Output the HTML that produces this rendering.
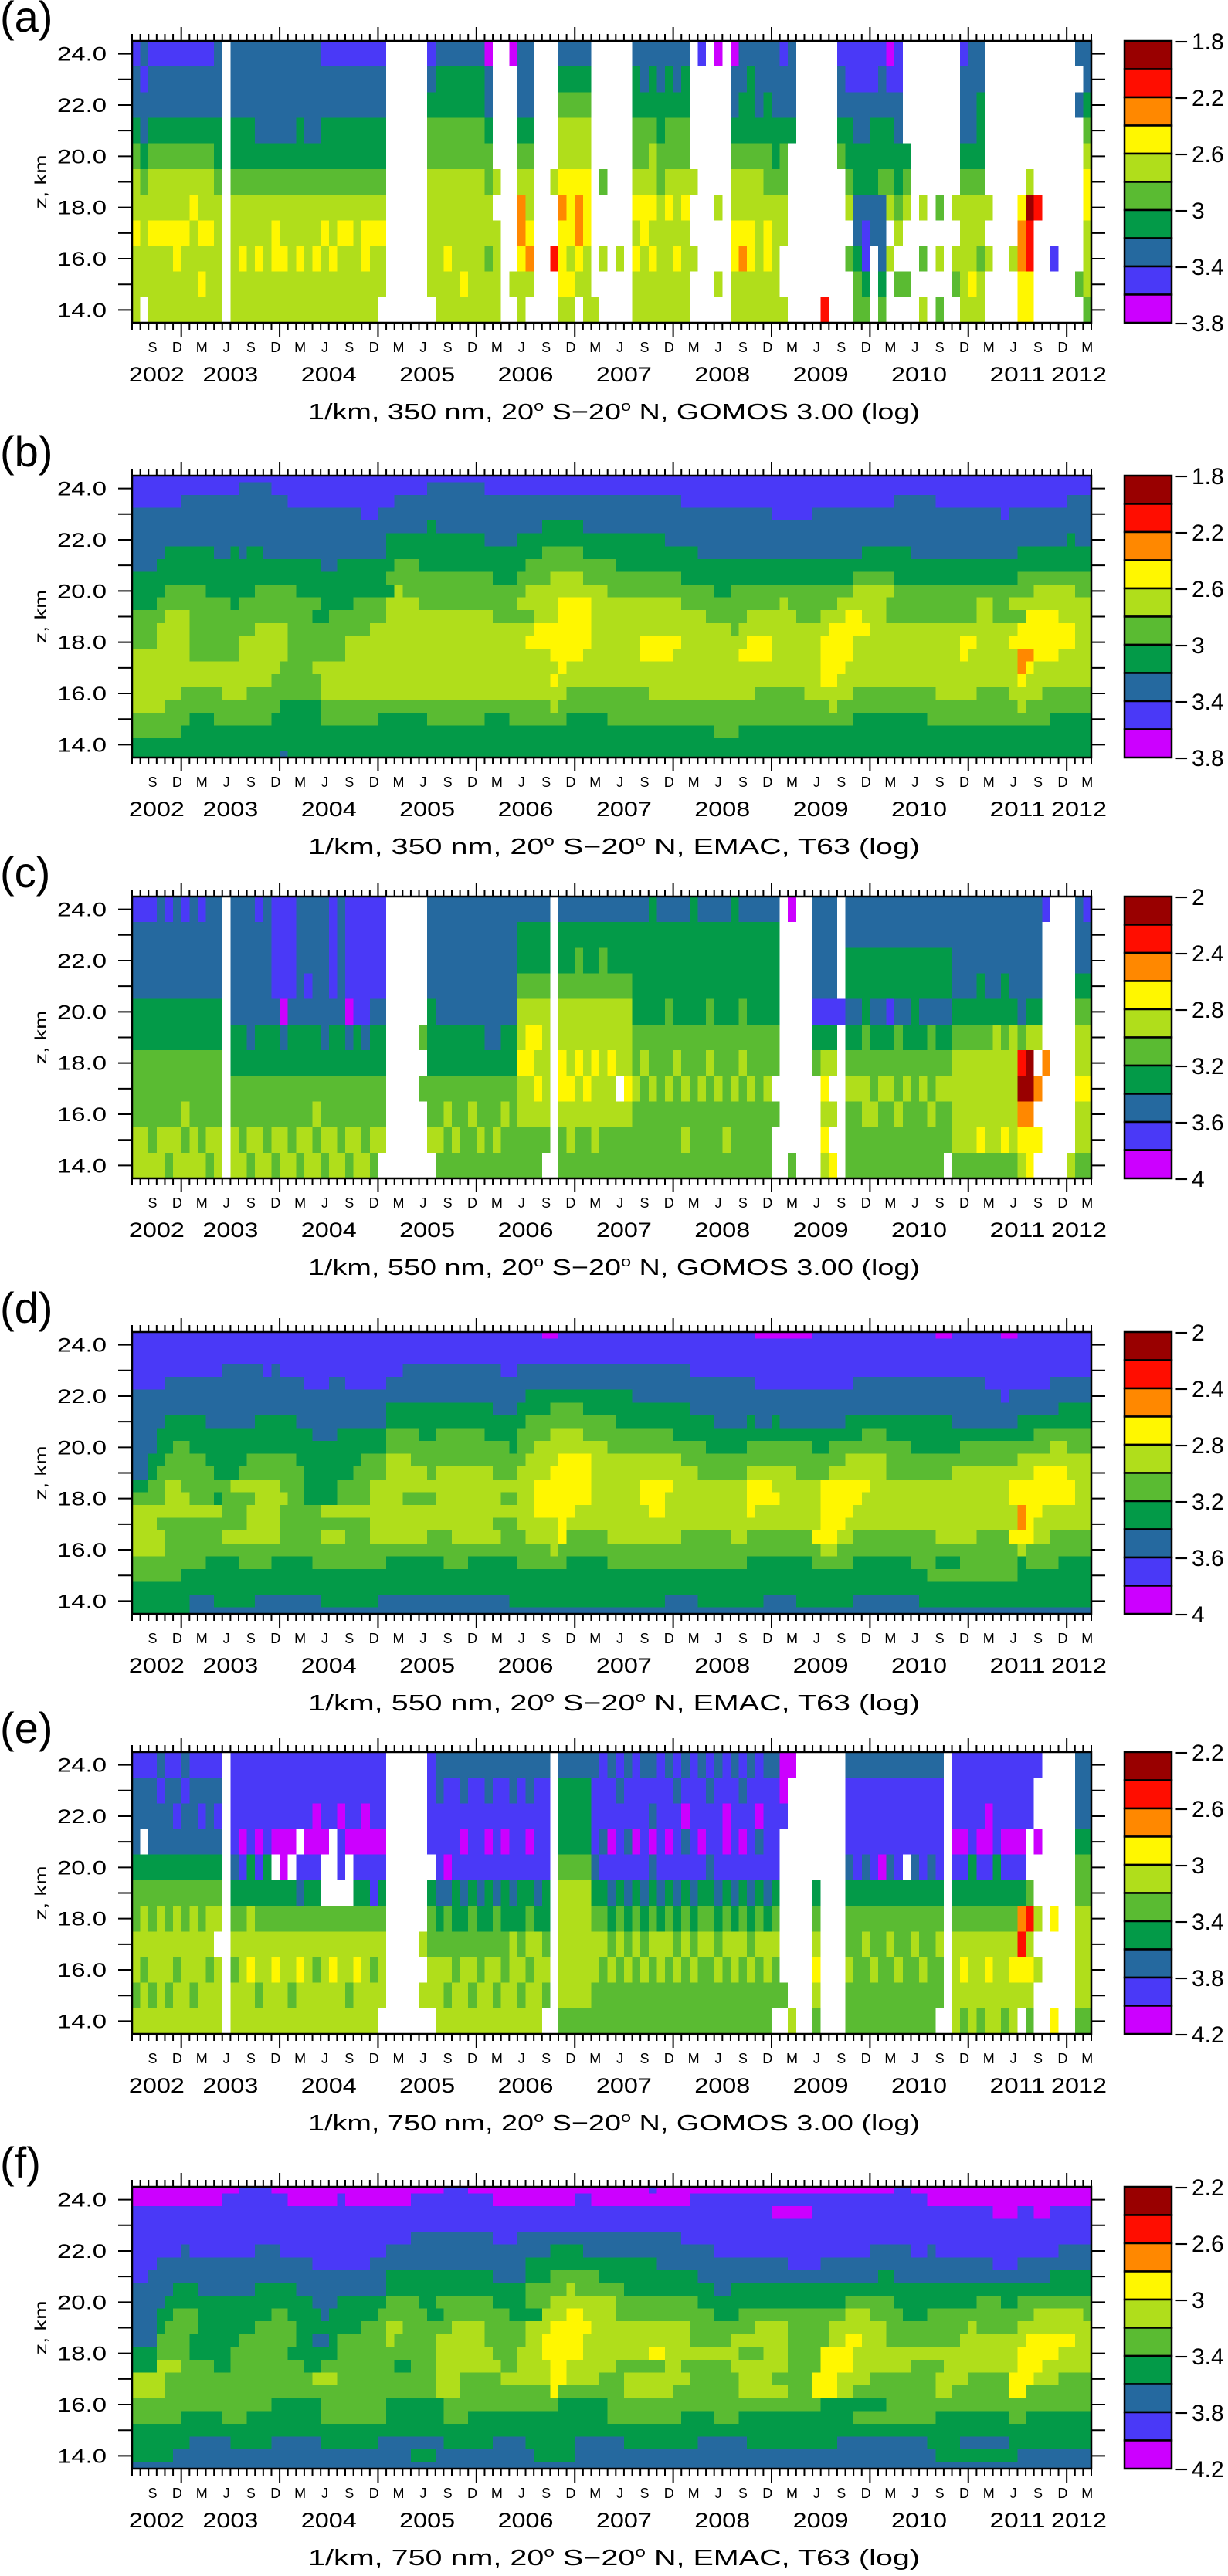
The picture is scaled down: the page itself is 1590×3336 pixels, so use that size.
<!DOCTYPE html>
<html>
<head>
<meta charset="utf-8">
<style>
html,body{margin:0;padding:0;background:#fff;}
svg{display:block;}
text{font-family:"Liberation Sans",sans-serif;fill:#000;}
</style>
</head>
<body>
<svg id="fig" xmlns="http://www.w3.org/2000/svg" width="1590" height="3336" viewBox="0 0 1590 3336">
<rect x="0" y="0" width="1590" height="3336" fill="#fff"></rect>
</svg>
<script>
// ---------- axis categories / tick labels ----------
const N_MONTHS = 117;               // Jul 2002 .. Mar 2012
const monthLetterOffsets = [2, 5, 8, 11];   // months after July: Sep, Dec, Mar, Jun
const monthLetters = ['S', 'D', 'M', 'J'];
const yearLabels = ['2002','2003','2004','2005','2006','2007','2008','2009','2010','2011','2012'];
const zMinorTicks = [14,15,16,17,18,19,20,21,22,23,24];
const zLabelValues = [14,16,18,20,22,24];
const zLabels = ['14.0','16.0','18.0','20.0','22.0','24.0'];
const panelLetters = ['(a)','(b)','(c)','(d)','(e)','(f)'];
const wavelengths = ['350','350','550','550','750','750'];
const sources = ['GOMOS 3.00','EMAC, T63','GOMOS 3.00','EMAC, T63','GOMOS 3.00','EMAC, T63'];
const cbarLabelsAB = ['1.8','2.2','2.6','3','3.4','3.8'];
const cbarLabelsCD = ['2','2.4','2.8','3.2','3.6','4'];
const cbarLabelsEF = ['2.2','2.6','3','3.4','3.8','4.2'];
const classColors = ['#990000','#ff0d00','#ff8800','#fff700','#b0de1b','#5abb32','#039a48','#25699f','#4a39f7','#cc00ff'];

// ---------- GOMOS data: one string per month, levels 24..14 km, class digit or '.' = no data ----------
const gomosA = [
"87765443444",
"7877654444.","87765443444","87765443444","87765443444","87765443344","87765443444",
"87765434444","87765443434","87765443444","77766544444","...........","77766544444","77766544344","77766544444","77776544344","77776544444","77776543344","77776544344",
"77776544444","77766544344","77776544444","77776544344","87766543444","87766544344","87766543444","87766543444","87766544444","87766543344","87766543444","8776654344.",
"...........","...........","...........","...........","...........","8765544444.","76655444444","76655444344","76655444444","76655444434","76655444444","76655444444",
"97765544544",".....4.4444","...........","9........4.","77765422344","7776544324.","...........","...........",".....4..1..","76544323334","76544333434","7654432234.",
"76544333444","..........4",".....5..4..","...........","........4..","...........","76655434344","77655433444","76654434344","77665544444","76655434444","77655444344",
"76655434444",".....4..4..","8..........","...........","9.....4..4.","...........","97765443344","77665443244","76665443344","77765444444","77665543344","77766544444",
"87765544..4","7776.......","...........","...........","...........","..........1","...........","87765......","8876654.5..","88776677655","88776678865","88766677...",
"87766577765","9876654.4..","88776654.5.","....654..5.","...........","......4.5.4","...........","......5.4.5","...........","......4.45.","87776544444","77776544434",
"77666544544","......4.4..","...........","...........","........4..","......32233",".....401133","......1....","...........","........8..","...........","...........",
"7.7......5.","77654334445"
];
const gomosC = [
"87776655544",
"87776655544","87776655554","77776655544","87776655545","77776655544","87776655454",
"77776655544","87776655554","77776655545","77776655544","...........","77777665544","77777665554","77777765545","87777665544","77777665554","88887665545","88889765544",
"88887665554","77777665545","77787665544","77777665454","77777765545","88887665544","77777665554","88889765545","88888665544","88888765554","88887665545","8888766554.",
"...........","...........","...........","...........",".....5.5...","7777666554.","77777665545","77777665455","77777665545","77777665555","77777665455","77777665545",
"77777765555","77777765545","77777665455","77777665555","76654434455","76654334455","76654343455","7665444445.","...........","76654433455","76654443445","76554434455",
"76654443455","76654434445","76554444455","76654434455","7665444.455","76654443455","76666554555","76666545555","66666554555","76666555555","76665554555","76666545555",
"76666554545","66666555555","76666554555","76665545555","76666554555","76666555545","66666554555","76665545555","76666554555","76666555555","76666554555","7666655.5..",
"...........","9.........5","...........","...........","7777865....","77778643434","7777864.4.3","....8......","77667654555","77667654555","77666554455","77667655455",
"77667654555","77668654555","77667555455","77667654555","77666655555","77667654555","77667555455","77667654555","7766765455.","77776544445","77776544445","77776544445",
"77766544435","77776544445","77776444445","77766544435","77776444445","77777510234","77776400233","777764.2.3.","8.....2....","...........","...........","..........4",
"77765443445","87765443445"
];
const gomosE = [
"87776554454",
"877.6544544","87776554454","78776544444","87776554454","87876544544","78776554444",
"87776544454","87876554444","87776544544","8787654.444","...........","88887654544","88898654444","88886644344","88898654454","88886654444","8889.654344","88899654444",
"8889.654454","888.8754344","88898654444","88998654544","8889..54444","888...54344","88988.54444","8889..54454","88898654344","88998654444","88898854544","8889865444.",
"...........","...........","...........","...........",".......4.4.","8888.65544.","77888765444","78889755454","78888665544","77898765444","78888655454","78888765544",
"77898665444","78888755454","78898665544","77888764444","78888665454","77898654544","78888764444","7888866545.","...........","76665444445","76665444445","76665444445",
"76665444445","78887654455","88878654555","78898765455","87888654555","78878765455","88898654555","78888765455","78797654555","88888764455","78898654555","87888765455",
"78978654555","88888765455","78898654555","87887654555","78888765455","88998654555","78888764455","87898654555","78888765455","88978654555","78888764455","7888865455.",
"998......5.","9.........4","...........","...........",".....654345","...........","...........","...........","78887655455","78888655555","78887654555","78888655455",
"78889655555","78887654555","78888655455","7888.655555","78887654555","78888655455","78887655555","7888865455.","...........","88898654444","88898654345","88886654444",
"88898654445","88998654344","88886654444","88898654445","88898654344","8889862134.","888..514345","8..9..4.4..","...........","......3...3","...........","...........",
"77765544445","77765544445"
];

// ---------- EMAC data: one run-length row per 0.5 km level, 24.5 .. 13.5 km ("class*months") ----------
const emacB = [
"8*118",
"8*13,7*4,8*19,7*7,8*75",
"8*6,7*13,8*13,7*35,8*26,7*5,8*16,7*4",
"7*28,8*2,7*48,8*5,7*23,8*1,7*11",
"7*36,6*1,7*13,6*5,7*63",
"7*31,6*12,7*4,6*18,7*49,6*1,7*3",
"7*4,6*6,7*2,6*1,7*1,6*2,7*15,6*19,5*5,6*14,7*20,6*6,7*13,6*10",
"7*3,6*20,7*2,6*7,5*3,6*13,5*11,6*59",
"6*31,5*13,6*3,5*4,4*4,5*12,6*21,5*5,6*15,5*10",
"6*4,5*5,6*6,5*5,6*12,4*1,5*15,4*10,5*13,6*2,5*15,4*5,5*17,4*5,5*3",
"6*3,5*9,6*1,5*10,6*4,5*4,4*4,5*12,4*5,3*4,4*11,5*12,4*1,5*6,4*6,5*11,4*2,5*2,4*11",
"5*4,4*3,5*15,6*2,5*7,4*13,5*5,4*3,3*4,4*14,5*5,4*6,5*3,4*3,3*2,4*3,5*11,4*2,5*4,3*4,4*5",
"5*3,4*4,5*8,4*4,5*10,4*20,3*7,4*17,5*1,4*11,3*5,4*18,3*7,4*3",
"5*3,4*4,5*6,4*6,5*7,4*22,3*8,4*6,3*5,4*8,3*3,4*6,3*4,4*13,3*2,4*4,3*8,4*3",
"4*7,5*6,4*6,5*7,4*25,3*4,4*7,3*4,4*8,3*4,4*6,3*4,4*13,3*1,4*6,2*2,3*3,4*5",
"4*18,5*4,4*30,3*1,4*31,3*3,4*21,2*1,3*1,4*8",
"4*17,5*6,4*28,3*1,4*32,3*2,4*22,3*1,4*9",
"4*6,5*5,4*3,5*9,4*30,5*10,4*13,5*6,4*6,5*10,4*5,5*4,4*4,5*7",
"4*4,5*14,6*5,5*28,4*1,5*33,4*1,5*22,4*1,5*9",
"5*7,6*3,5*7,6*6,5*7,6*6,5*7,6*3,5*7,6*5,5*30,6*9,5*15,6*6",
"5*6,6*65,5*3,6*44",
"6*117",
"6*18,7*1,6*99"
];
const emacD = [
"8*50,9*2,8*24,9*7,8*15,9*2,8*6,9*2,8*10",
"8*117",
"8*117",
"8*11,7*5,8*1,7*1,8*15,7*12,8*2,7*21,8*50",
"8*4,7*17,8*3,7*2,8*5,7*45,8*12,7*16,8*8,7*6",
"7*48,6*13,7*45,8*1,7*11",
"7*31,6*13,7*3,6*4,5*4,6*13,7*45,6*5",
"7*4,6*5,7*6,6*5,7*11,6*17,5*11,6*12,7*4,6*1,7*2,6*1,7*8,6*13,7*8,6*10",
"7*3,6*19,7*3,6*6,5*4,6*2,5*6,6*4,5*4,4*4,5*11,6*23,5*3,6*18,5*8",
"7*3,6*2,5*2,6*24,5*15,6*1,5*2,4*9,5*12,6*5,5*8,6*2,5*10,6*6,5*11,4*2,5*4",
"7*2,6*2,5*5,6*5,5*6,6*8,5*3,4*3,5*14,4*4,3*4,4*11,5*20,4*5,5*16,4*10",
"7*2,6*1,5*7,6*3,5*8,6*6,5*4,4*5,5*1,4*7,5*3,4*4,3*5,4*13,5*6,4*6,5*4,4*7,5*8,4*10,3*4,4*4",
"6*2,5*2,4*2,5*6,4*6,5*3,6*4,5*4,4*20,3*7,4*6,3*4,4*9,3*3,4*6,3*6,4*17,3*8,4*3",
"5*4,4*3,5*3,6*1,5*4,4*4,5*2,6*4,5*4,4*4,5*4,4*8,5*2,4*2,3*7,4*6,3*3,4*10,3*4,4*5,3*5,4*18,3*8,4*3",
"4*11,5*3,4*4,5*5,4*26,3*5,4*9,3*2,4*10,3*1,4*8,3*4,4*20,2*1,3*2,4*7",
"4*3,5*11,4*4,5*11,4*15,5*3,4*5,3*1,4*31,3*3,4*21,2*1,3*1,4*8",
"4*4,5*7,4*7,5*5,4*3,5*3,4*7,5*3,4*6,5*3,4*4,3*1,5*5,4*9,5*6,4*2,5*8,3*3,4*2,5*10,4*5,5*4,3*3,4*2,5*6",
"4*4,5*47,4*1,5*32,4*2,5*22,4*1,5*9",
"5*9,6*4,5*4,6*5,5*9,6*7,5*3,6*6,5*6,6*5,5*17,6*8,5*5,6*7,5*3,6*3,5*7,6*1,5*4,6*5",
"5*6,6*91,5*11,6*10",
"6*117",
"6*7,7*3,6*5,7*8,6*7,7*16,6*19,7*4,6*8,7*4,6*7,7*8,6*22",
"6*7,7*111"
];
const emacF = [
"9*13,8*4,9*21,8*3,9*22,8*1,9*29,8*2,9*23",
"9*11,8*8,9*6,8*1,9*8,8*10,9*10,8*2,9*12,8*29,9*21",
"8*78,9*5,8*22,9*3,8*2,9*2,8*6",
"8*117",
"8*34,7*10,8*3,7*20,8*51",
"8*6,7*1,8*8,7*3,8*13,7*20,6*4,7*16,8*19,7*5,8*2,7*1,8*15,7*5",
"8*3,7*19,8*7,7*19,6*16,7*16,8*4,7*21,8*3,7*10",
"8*2,7*29,6*13,7*4,6*3,5*6,6*12,7*22,6*2,7*19,6*6",
"7*5,6*3,7*7,6*5,7*11,6*17,5*5,4*1,5*6,6*11,7*2,6*45",
"7*4,6*18,7*3,6*6,5*4,6*2,5*7,6*4,5*3,4*8,5*10,6*18,5*6,6*10,5*3,6*2,5*10",
"7*3,6*2,5*3,6*9,5*2,6*4,7*1,6*6,5*6,6*2,5*8,6*4,4*3,3*2,4*4,5*12,6*3,5*13,4*3,5*4,6*3,5*13,4*6,5*2",
"7*3,6*1,5*4,6*7,5*5,6*8,5*3,4*2,5*6,4*4,5*5,4*3,3*5,4*12,5*8,4*4,5*5,4*7,5*10,4*1,5*5,4*10",
"7*3,5*4,6*6,5*7,6*2,7*2,6*1,5*6,4*1,5*5,4*6,5*5,4*2,3*5,4*13,5*5,4*7,5*5,4*2,3*2,4*3,5*9,4*8,3*6,4*3",
"6*3,5*4,6*5,5*7,6*6,5*12,4*7,5*3,4*3,3*5,4*8,3*2,4*9,5*3,4*3,5*4,3*4,4*20,3*5,4*5",
"6*3,4*3,5*4,6*2,5*9,6*2,5*9,6*2,5*3,4*8,5*2,4*4,3*2,4*6,5*6,4*2,5*6,4*7,5*4,3*4,4*7,5*4,4*9,3*3,4*7",
"4*4,5*18,4*3,5*12,4*3,5*5,4*6,3*2,4*4,5*3,4*8,5*6,4*4,5*5,3*3,4*4,5*8,4*4,5*5,3*3,4*3,5*5",
"4*4,5*33,4*3,5*11,3*1,5*8,4*6,5*8,4*6,5*3,3*3,4*2,5*10,4*2,5*7,3*2,5*9",
"5*17,6*6,5*8,6*7,5*14,6*6,5*26,6*8,5*26",
"5*6,6*5,5*3,6*9,5*8,6*7,5*3,6*17,5*9,6*4,5*3,6*14,5*10,6*9,5*2,6*9",
"6*117",
"6*7,7*5,6*5,7*6,6*7,7*8,6*6,7*4,6*6,7*6,6*9,7*6,6*11,7*11,6*4,7*6,6*11",
"6*5,7*29,6*3,7*12,6*5,7*44,6*10,7*10",
"7*117"
];

// ---------- layout ----------
const NS = 'http://www.w3.org/2000/svg';
const svg = document.getElementById('fig');
const X0 = 171, X1 = 1413, H = 365;
const panelTops = [53, 616, 1161, 1725, 2269, 2832];
const CBX0 = 1456, CBX1 = 1517;

function xOf(m) { return X0 + m * (X1 - X0) / N_MONTHS; }
function yOf(z, T) { return T + (24.5 - z) * H / 11; }

function mk(tag, attrs, parent) {
  const el = document.createElementNS(NS, tag);
  for (const k in attrs) el.setAttribute(k, attrs[k]);
  (parent || svg).appendChild(el);
  return el;
}
function expandRLE(s) {
  const out = [];
  s.split(',').forEach(function (part) {
    const p = part.split('*');
    for (let i = 0; i < +p[1]; i++) out.push(p[0]);
  });
  return out.slice(0, N_MONTHS);
}

const panelData = [
  {type: 'gomos', data: gomosA, cbar: cbarLabelsAB},
  {type: 'emac',  data: emacB,  cbar: cbarLabelsAB},
  {type: 'gomos', data: gomosC, cbar: cbarLabelsCD},
  {type: 'emac',  data: emacD,  cbar: cbarLabelsCD},
  {type: 'gomos', data: gomosE, cbar: cbarLabelsEF},
  {type: 'emac',  data: emacF,  cbar: cbarLabelsEF}
];

function drawRun(g, m0, m1, zTop, zBot, cls, T) {
  const r = mk('rect', {
    x: xOf(m0).toFixed(2), y: yOf(zTop, T).toFixed(2),
    width: (xOf(m1) - xOf(m0)).toFixed(2), height: (yOf(zBot, T) - yOf(zTop, T)).toFixed(2),
    fill: classColors[+cls], 'shape-rendering': 'crispEdges'
  }, g);
  
  
}

panelData.forEach(function (pd, p) {
  const T = panelTops[p];
  const letter = panelLetters[p].replace(/[()]/g, '');
  const g = mk('g', {});
  
  

  const hm = mk('g', {}, g);
  
  

  if (pd.type === 'gomos') {
    for (let i = 0; i < 11; i++) {
      const z = 24 - i;
      const val = function (m) { return ((pd.data[m] || '')[i]) || '.'; };
      let m = 0;
      while (m < N_MONTHS) {
        const c = val(m);
        let e = m + 1;
        while (e < N_MONTHS && val(e) === c) e++;
        if (c !== '.') drawRun(hm, m, e, z + 0.5, z - 0.5, c, T);
        m = e;
      }
    }
  } else {
    pd.data.forEach(function (row, i) {
      const z = 24.5 - 0.5 * i;
      const vals = expandRLE(row);
      const zt = Math.min(z + 0.25, 24.5), zb = Math.max(z - 0.25, 13.5);
      let m = 0;
      while (m < vals.length) {
        const c = vals[m];
        let e = m + 1;
        while (e < vals.length && vals[e] === c) e++;
        drawRun(hm, m, e, zt, zb, c, T);
        m = e;
      }
    });
  }

  // frame
  const fr = mk('rect', {x: X0, y: T, width: X1 - X0, height: H, fill: 'none', stroke: '#000', 'stroke-width': 2.5}, g);
  
  

  // y ticks left/right
  zMinorTicks.forEach(function (z) {
    const y = yOf(z, T);
    const tl = mk('line', {x1: X0 - 18, y1: y, x2: X0, y2: y, stroke: '#000', 'stroke-width': 2}, g);
    
    
    const tr = mk('line', {x1: X1, y1: y, x2: X1 + 18, y2: y, stroke: '#000', 'stroke-width': 2}, g);
    
    
  });
  zLabelValues.forEach(function (z, k) {
    const t = mk('text', {x: 138, y: yOf(z, T) + 9, 'text-anchor': 'end', 'font-size': 25, textLength: 64, lengthAdjust: 'spacingAndGlyphs'}, g);
    t.textContent = zLabels[k];
    
    
  });
  const yt = mk('text', {x: 0, y: 0, 'text-anchor': 'middle', 'font-size': 21, textLength: 70, lengthAdjust: 'spacingAndGlyphs',
    transform: 'translate(60,' + (T + H / 2) + ') rotate(-90)'}, g);
  yt.textContent = 'z, km';
  
  

  // x ticks top/bottom
  for (let m = 0; m <= N_MONTHS; m++) {
    const major = ((m - 6) % 12 === 0);
    const len = major ? 18 : 9;
    const x = xOf(m);
    const tt = mk('line', {x1: x, y1: T - len, x2: x, y2: T, stroke: '#000', 'stroke-width': 2}, g);
    
    
    const tb = mk('line', {x1: x, y1: T + H, x2: x, y2: T + H + len, stroke: '#000', 'stroke-width': 2}, g);
    
    
  }
  for (let m = 0; m < N_MONTHS; m++) {
    const k = monthLetterOffsets.indexOf(m % 12);
    if (k < 0) continue;
    const t = mk('text', {x: xOf(m + 0.5), y: T + H + 38, 'text-anchor': 'middle', 'font-size': 18}, g);
    t.textContent = monthLetters[k];
    
    
  }
  yearLabels.forEach(function (yl, i) {
    const s = i === 0 ? 0 : 6 + 12 * (i - 1);
    const e = Math.min(6 + 12 * i, N_MONTHS);
    const t = mk('text', {x: xOf((s + e) / 2), y: T + H + 76, 'text-anchor': 'middle', 'font-size': 27, textLength: 72, lengthAdjust: 'spacingAndGlyphs'}, g);
    t.textContent = yl;
    
    
  });

  // caption
  const cap = mk('text', {x: 795, y: T + H + 125, 'text-anchor': 'middle', 'font-size': 29, textLength: 792, lengthAdjust: 'spacingAndGlyphs'}, g);
  
  
  const parts = [
    ['1/km, ' + wavelengths[p] + ' nm, 20', 0, null],
    ['o', -11, 18],
    [' S\u221220', 11, null],
    ['o', -11, 18],
    [' N, ' + sources[p] + ' (log)', 11, null]
  ];
  parts.forEach(function (pt) {
    const ts = mk('tspan', {dy: pt[1]}, cap);
    if (pt[2]) ts.setAttribute('font-size', pt[2]);
    ts.textContent = pt[0];
  });

  // panel letter
  const pl = mk('text', {x: 0, y: T - 12, 'font-size': 56}, g);
  pl.textContent = panelLetters[p];
  
  

  // colorbar
  const cb = mk('g', {}, g);
  
  
  for (let k = 0; k < 10; k++) {
    const b = mk('rect', {x: CBX0, y: T + k * H / 10, width: CBX1 - CBX0, height: H / 10, fill: classColors[k], stroke: '#000', 'stroke-width': 2.5}, cb);
    
    
  }
  pd.cbar.forEach(function (lab, j) {
    const by = T + j * 2 * H / 10;
    const t = mk('text', {x: 1521, y: by + 11, 'font-size': 30}, cb);
    const t1 = mk('tspan', {x: 1521}, t);
    t1.textContent = '\u2212';
    const t2 = mk('tspan', {x: 1543}, t);
    t2.textContent = lab;
    
    
  });
});
</script>
</body>
</html>
